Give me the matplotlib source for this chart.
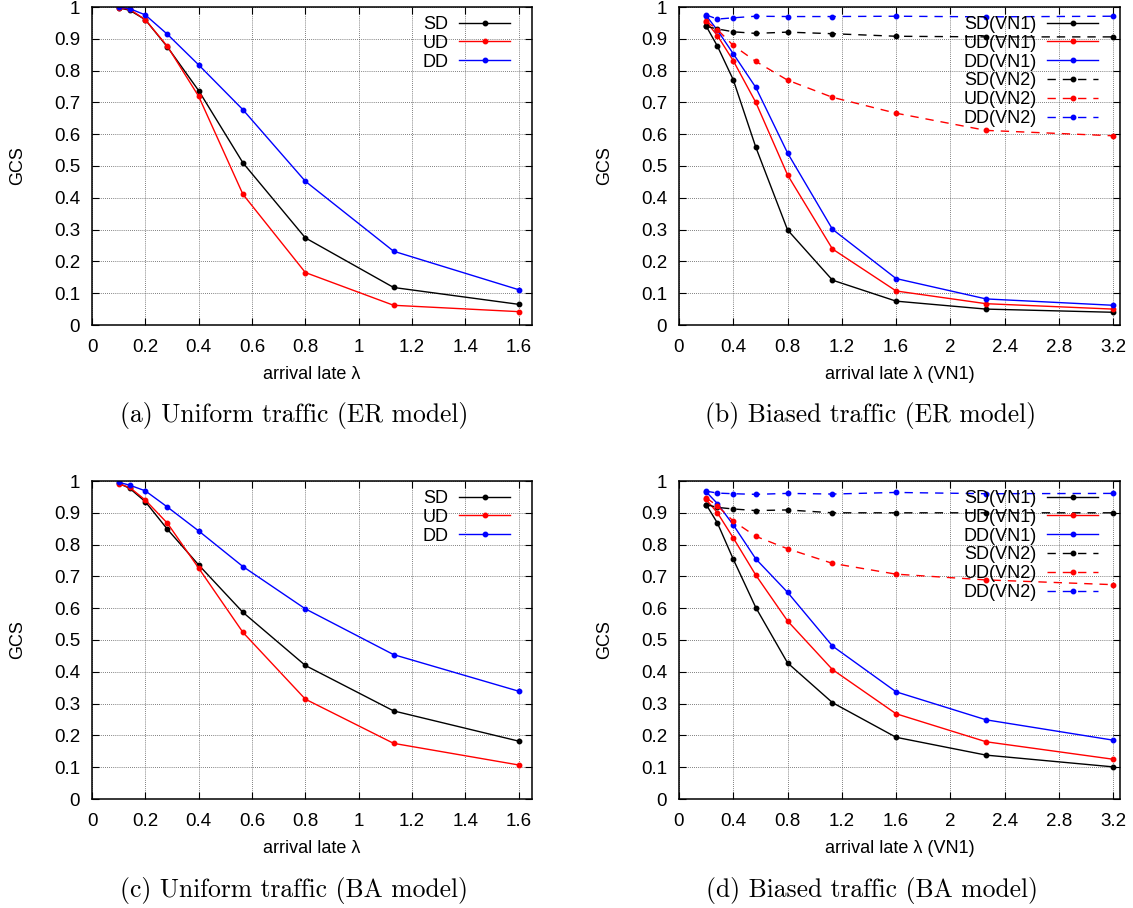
import matplotlib
matplotlib.use("Agg")
import matplotlib.pyplot as plt

# ---------------- data ----------------
x_uniform = [0.1, 0.141, 0.2, 0.283, 0.4, 0.566, 0.8, 1.131, 1.6]
x_biased = [0.2, 0.283, 0.4, 0.566, 0.8, 1.131, 1.6, 2.263, 3.2]

# (a) Uniform traffic, ER model
a_SD = [0.997, 0.990, 0.960, 0.874, 0.737, 0.510, 0.274, 0.118, 0.065]
a_UD = [0.997, 0.993, 0.960, 0.876, 0.719, 0.411, 0.165, 0.062, 0.042]
a_DD = [1.000, 0.995, 0.975, 0.914, 0.818, 0.677, 0.452, 0.232, 0.111]

# (b) Biased traffic, ER model
b_SD1 = [0.940, 0.877, 0.771, 0.559, 0.299, 0.141, 0.075, 0.050, 0.040]
b_UD1 = [0.954, 0.910, 0.831, 0.700, 0.472, 0.239, 0.107, 0.067, 0.050]
b_DD1 = [0.973, 0.927, 0.853, 0.747, 0.541, 0.301, 0.146, 0.082, 0.062]
b_SD2 = [0.939, 0.931, 0.922, 0.917, 0.921, 0.916, 0.908, 0.906, 0.906]
b_UD2 = [0.955, 0.929, 0.879, 0.829, 0.770, 0.716, 0.666, 0.612, 0.595]
b_DD2 = [0.975, 0.962, 0.966, 0.971, 0.970, 0.970, 0.971, 0.969, 0.971]

# (c) Uniform traffic, BA model
c_SD = [0.993, 0.977, 0.935, 0.848, 0.736, 0.587, 0.420, 0.277, 0.182]
c_UD = [0.991, 0.980, 0.940, 0.867, 0.726, 0.524, 0.314, 0.175, 0.107]
c_DD = [0.996, 0.987, 0.969, 0.918, 0.843, 0.731, 0.598, 0.454, 0.339]

# (d) Biased traffic, BA model
d_SD1 = [0.926, 0.868, 0.754, 0.602, 0.428, 0.303, 0.194, 0.138, 0.101]
d_UD1 = [0.942, 0.900, 0.821, 0.704, 0.560, 0.407, 0.268, 0.180, 0.125]
d_DD1 = [0.966, 0.929, 0.862, 0.755, 0.650, 0.481, 0.337, 0.249, 0.185]
d_SD2 = [0.926, 0.917, 0.912, 0.907, 0.909, 0.900, 0.900, 0.900, 0.900]
d_UD2 = [0.947, 0.922, 0.874, 0.826, 0.787, 0.741, 0.707, 0.689, 0.674]
d_DD2 = [0.968, 0.962, 0.960, 0.958, 0.961, 0.959, 0.964, 0.960, 0.961]

y_ticks = [0, 0.1, 0.2, 0.3, 0.4, 0.5, 0.6, 0.7, 0.8, 0.9, 1]
y_ticklabels = ["0", "0.1", "0.2", "0.3", "0.4", "0.5", "0.6", "0.7", "0.8", "0.9", "1"]
xu_ticks = [0, 0.2, 0.4, 0.6, 0.8, 1.0, 1.2, 1.4, 1.6]
xu_ticklabels = ["0", "0.2", "0.4", "0.6", "0.8", "1", "1.2", "1.4", "1.6"]
xb_ticks = [0, 0.4, 0.8, 1.2, 1.6, 2.0, 2.4, 2.8, 3.2]
xb_ticklabels = ["0", "0.4", "0.8", "1.2", "1.6", "2", "2.4", "2.8", "3.2"]

uniform_labels = ["SD", "UD", "DD"]
biased_labels = ["SD(VN1)", "UD(VN1)", "DD(VN1)", "SD(VN2)", "UD(VN2)", "DD(VN2)"]
colors3 = ["#000000", "#ff0000", "#0000ff"]

captions = ["(a) Uniform traffic (ER model)", "(b) Biased traffic (ER model)",
            "(c) Uniform traffic (BA model)", "(d) Biased traffic (BA model)"]

# ---------------- figure ----------------
W, H = 1133, 908
plt.rcParams["font.family"] = ["Liberation Sans", "DejaVu Sans"]
fig = plt.figure(figsize=(W / 100, H / 100), dpi=100)

def px_axes(left, top, right, bottom):
    return fig.add_axes([left / W, 1 - bottom / H, (right - left) / W, (bottom - top) / H])

ax_a = px_axes(92, 7, 532, 325)
ax_b = px_axes(679, 7, 1120, 325)
ax_c = px_axes(92, 481, 532, 799)
ax_d = px_axes(679, 481, 1120, 799)

FS = 13.5
LFS = 13
DASH = (0, (6, 5))

def style(ax, biased):
    ax.set_ylim(0, 1)
    ax.set_yticks(y_ticks)
    ax.set_yticklabels(y_ticklabels)
    if biased:
        ax.set_xlim(0, 3.25)
        ax.set_xticks(xb_ticks)
        ax.set_xticklabels(xb_ticklabels)
        ax.set_xlabel("arrival late \u03bb (VN1)", fontsize=LFS, labelpad=7)
    else:
        ax.set_xlim(0, 1.65)
        ax.set_xticks(xu_ticks)
        ax.set_xticklabels(xu_ticklabels)
        ax.set_xlabel("arrival late \u03bb", fontsize=LFS, labelpad=7)
    ax.set_ylabel("GCS", fontsize=LFS, labelpad=20)
    ax.tick_params(direction="in", top=True, right=True, length=5, width=0.8,
                   labelsize=FS)
    ax.tick_params(axis="x", pad=10)
    ax.tick_params(axis="y", pad=8.5)
    ax.grid(True, color="#555555", linestyle=(0, (1, 1.5)), linewidth=0.6)
    ax.set_axisbelow(True)
    for s in ax.spines.values():
        s.set_linewidth(1.1)

def legend(ax):
    ax.legend(loc="upper right", bbox_to_anchor=(1 - 22 / 441, 1 - 9 / 318),
              frameon=False, markerfirst=False, fontsize=LFS,
              handlelength=2.8, handletextpad=0.6, labelspacing=0.1,
              borderaxespad=0, borderpad=0)

def plot_uniform(ax, sd, ud, dd):
    for vals, lab, col in zip([sd, ud, dd], uniform_labels, colors3):
        ax.plot(x_uniform, vals, color=col, lw=1.0, marker="o", ms=3.2, label=lab)
    style(ax, False)
    legend(ax)

def plot_biased(ax, s1, u1, d1, s2, u2, d2):
    series = [s1, u1, d1, s2, u2, d2]
    for i, (vals, lab) in enumerate(zip(series, biased_labels)):
        col = colors3[i % 3]
        ls = "-" if i < 3 else DASH
        ax.plot(x_biased, vals, color=col, lw=1.0, linestyle=ls, marker="o", ms=3.2, label=lab)
    style(ax, True)
    legend(ax)

plot_uniform(ax_a, a_SD, a_UD, a_DD)
plot_biased(ax_b, b_SD1, b_UD1, b_DD1, b_SD2, b_UD2, b_DD2)
plot_uniform(ax_c, c_SD, c_UD, c_DD)
plot_biased(ax_d, d_SD1, d_UD1, d_DD1, d_SD2, d_UD2, d_DD2)

cap_pos = [(294, 415), (871, 415), (294, 890), (872, 890)]
for (cx, cy), txt in zip(cap_pos, captions):
    fig.text(cx / W, 1 - cy / H, txt, ha="center", va="center",
             fontsize=18.4, family=["cmr10", "DejaVu Serif"])

fig.savefig("out.png", dpi=100)
